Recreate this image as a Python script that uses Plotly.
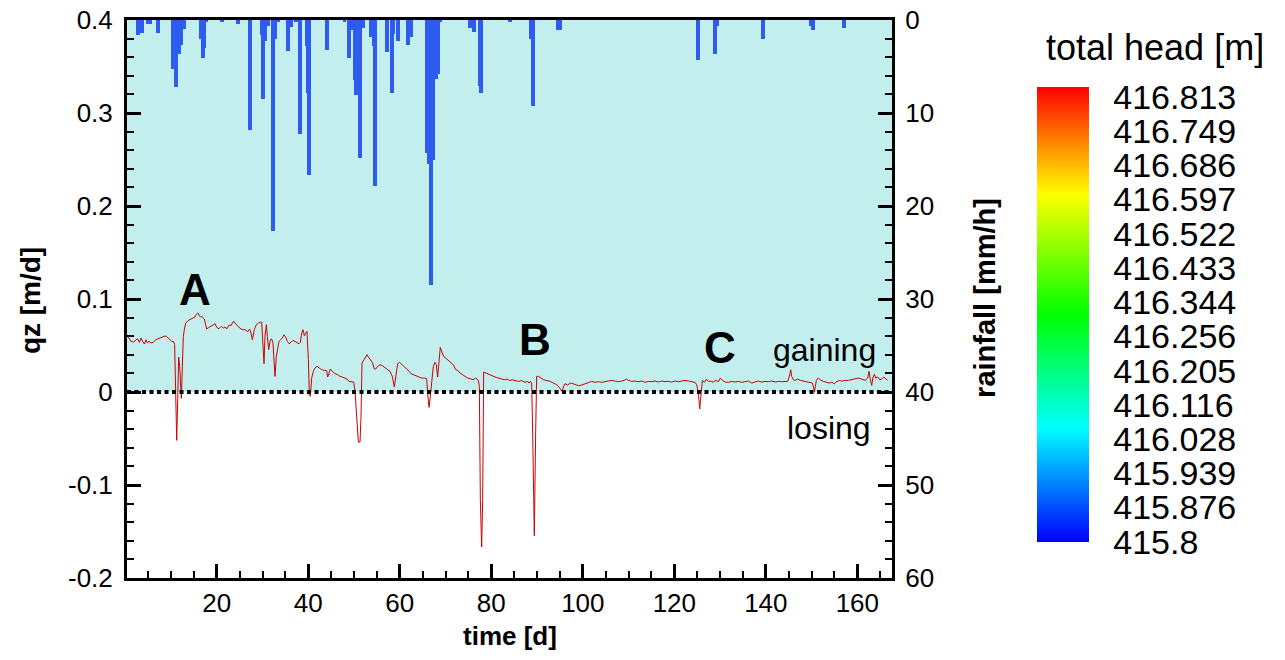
import plotly.graph_objects as go

FONT = "Liberation Sans, Arial, Helvetica, sans-serif"

# ---------------- data ----------------
rain_day = [2.8, 3.65, 4.9, 5.4, 7.15, 10.43, 11.08, 11.74, 12.17, 12.83,
            16.55, 16.98, 17.28, 17.64, 21.2, 24.6, 27.26, 29.88, 30.1, 30.5,
            31.2, 32.28, 32.65, 33.4, 35.5, 36.2, 37.3, 38.2, 39.7, 39.93,
            40.15, 44.1, 47.9, 48.9, 49.77, 50.2, 50.43, 51.3, 51.96, 53.7,
            54.4, 54.58, 57.2, 58.3, 58.6, 59.6, 61.8, 62.45, 65.94, 66.38,
            66.81, 67.25, 67.9, 68.35, 68.8, 75.3, 76.2, 77.5, 77.75, 84.1,
            88.7, 89.1, 94.5, 95.0, 125.2, 128.9, 129.3, 139.4, 149.9, 150.3,
            157.1]
rain_mmh = [1.65, 1.44, 0.45, 0.45, 1.44, 5.27, 7.24, 3.66, 2.73, 0.94,
            2.08, 4.13, 3.05, 0.22, 0.25, 0.47, 11.87, 1.65, 8.53, 2.3,
            0.68, 22.7, 2.08, 0.15, 3.3, 0.7, 0.15, 12.3, 2.83, 7.9,
            16.7, 3.26, 0.25, 4.1, 1.1, 6.49, 8.1, 14.8, 0.9, 1.87,
            2.83, 17.8, 3.48, 7.9, 1.5, 2.3, 2.73, 1.87, 14.3, 15.5,
            28.5, 15.1, 6.3, 5.85, 0.15, 0.9, 1.33, 7.14, 7.9, 0.15,
            2.08, 9.29, 1.1, 1.1, 4.34, 3.7, 0.68, 2.08, 0.68, 1.1,
            0.9]

qz_day = [
    0.66, 1.25, 1.76, 2.27, 2.70, 3.07, 3.43, 3.80, 4.16, 4.52, 4.82, 5.18, 5.62, 6.13,
    6.64, 7.07, 7.58, 8.09, 8.68, 9.04, 9.55, 10.13, 10.57, 10.79, 11.01, 11.23, 11.45,
    11.66, 11.88, 12.10, 12.25, 12.47, 12.68, 12.90, 13.19, 13.78, 14.36, 14.87, 15.23,
    15.45, 15.82, 16.11, 16.40, 16.69, 16.98, 17.27, 17.57, 17.78, 18.15, 18.73, 19.24,
    19.61, 20.04, 20.48, 20.99, 21.43, 21.79, 22.16, 22.67, 23.10, 23.39, 23.69, 23.98,
    24.41, 24.99, 25.58, 26.16, 26.75, 27.18, 27.47, 27.77, 28.20, 28.64, 29.08, 29.51,
    29.81, 30.10, 30.32, 30.53, 30.83, 31.04, 31.34, 31.70, 31.99, 32.28, 32.50, 32.72,
    33.01, 33.30, 33.59, 33.96, 34.32, 34.69, 35.05, 35.42, 35.78, 36.22, 36.65, 37.09,
    37.53, 37.97, 38.26, 38.55, 38.84, 39.13, 39.42, 39.71, 40.01, 40.23, 40.44, 40.74,
    41.10, 41.46, 41.90, 42.34, 42.92, 43.50, 44.01, 44.23, 44.52, 44.82, 45.25, 45.84,
    46.42, 46.93, 47.44, 48.02, 48.46, 48.90, 49.48, 49.92, 50.21, 50.57, 50.94, 51.30,
    51.52, 51.74, 52.10, 52.54, 52.83, 53.12, 53.56, 54.00, 54.43, 54.73, 55.16, 55.67,
    56.18,
    56.76, 57.34, 57.85, 58.36, 58.80, 59.16, 59.53, 59.97, 60.40, 60.84, 61.28, 61.86,
    62.44, 63.03, 63.68, 64.19, 64.77, 65.36, 65.87, 66.09, 66.38, 66.67, 66.96, 67.32,
    67.69, 67.98, 68.27, 68.56, 68.85, 69.15, 69.58, 70.02, 70.60, 71.19, 71.70, 72.21,
    72.64, 73.15, 73.66, 74.25, 74.83, 75.41, 75.99, 76.58, 77.16, 77.38, 77.60, 77.89,
    78.11, 78.33, 78.76, 79.35, 79.93, 80.51, 81.09, 81.68, 82.26, 82.84, 83.43, 84.01,
    84.59, 85.18, 85.90, 86.63, 87.36, 87.94, 88.24, 88.53, 88.82, 89.04, 89.40, 89.69,
    89.91, 90.28, 90.86, 91.44, 92.17, 92.90, 93.55, 94.28, 94.79, 95.23, 95.45, 95.74,
    96.10, 96.69, 97.27, 97.85, 98.44, 99.02, 99.75, 100.48, 101.20, 101.93, 102.66,
    103.39, 104.12, 104.85, 105.58, 106.30, 107.03, 107.76, 108.49, 109.07, 109.51,
    109.95, 110.68, 111.40, 112.13, 112.86,
    113.60, 114.33, 115.06, 115.79, 116.51, 117.24, 117.97, 118.70, 119.43, 120.16,
    120.89, 121.61, 122.34, 123.07, 123.80, 124.53, 124.89, 125.26, 125.55, 125.84,
    126.13, 126.57, 127.01, 127.44, 127.88, 128.46, 129.05, 129.63, 130.07, 130.50,
    131.09, 131.82, 132.54, 133.27, 134.00, 134.73, 135.46, 136.19, 136.92, 137.64,
    138.37, 139.10, 139.83, 140.56, 141.29, 142.02, 142.74, 143.47, 144.20, 144.78,
    145.15, 145.44, 145.66, 146.02, 146.39, 146.97, 147.55, 148.14, 148.72, 149.30,
    149.74, 150.18, 150.47, 150.61, 150.83, 151.05, 151.49, 152.07, 152.65, 153.24,
    153.82, 154.40, 154.98, 155.57, 156.15, 156.73, 157.32, 158.04, 158.77, 159.50,
    160.23, 160.96, 161.69, 162.27, 162.56, 162.85, 163.14, 163.44, 163.73, 164.02,
    164.46, 164.89, 165.33, 165.77, 166.20, 166.64]

qz_val = [
    0.0591, 0.0544, 0.0537, 0.0562, 0.0573, 0.0534, 0.0580, 0.0544, 0.0516, 0.0562, 0.0527,
    0.0544, 0.0527, 0.0534, 0.0562, 0.0570, 0.0580, 0.0591, 0.0602, 0.0598, 0.0573, 0.0544,
    0.0541, 0.0509, -0.0011, -0.0520, -0.0083, 0.0376, 0.0276, -0.0011, -0.0068, 0.0276,
    0.0598, 0.0670, 0.0741, 0.0770, 0.0785, 0.0796, 0.0806, 0.0831, 0.0849, 0.0828, 0.0806,
    0.0813, 0.0796, 0.0785, 0.0724, 0.0677, 0.0691, 0.0706, 0.0720, 0.0734, 0.0691, 0.0681,
    0.0706, 0.0688, 0.0699, 0.0677, 0.0720, 0.0713, 0.0741, 0.0763, 0.0741, 0.0713, 0.0688,
    0.0670, 0.0670, 0.0648, 0.0677, 0.0634, 0.0562, 0.0670, 0.0724, 0.0741, 0.0752, 0.0749,
    0.0491, 0.0304, 0.0598, 0.0724, 0.0598, 0.0455, 0.0562, 0.0570, 0.0527, 0.0383, 0.0168,
    0.0383, 0.0491, 0.0544, 0.0562, 0.0580, 0.0616, 0.0591, 0.0544, 0.0519, 0.0534, 0.0555,
    0.0544, 0.0527, 0.0519, 0.0534, 0.0634, 0.0670, 0.0605, 0.0634, 0.0652, 0.0347, -0.0029,
    -0.0047, 0.0150, 0.0222, 0.0258, 0.0276, 0.0258, 0.0240, 0.0233, 0.0229, 0.0161, 0.0211,
    0.0247, 0.0222, 0.0197, 0.0186, 0.0168, 0.0161, 0.0150, 0.0139, 0.0114, 0.0107, 0.0107,
    0.0007, -0.0262, -0.0538, -0.0538, -0.0262, 0.0311, 0.0340, 0.0365, 0.0401, 0.0376,
    0.0340, 0.0319, 0.0247, 0.0247, 0.0276, 0.0294, 0.0283,
    0.0258, 0.0240, 0.0222, 0.0168, 0.0053, 0.0186, 0.0304, 0.0319, 0.0294, 0.0276, 0.0258,
    0.0233, 0.0197, 0.0186, 0.0168, 0.0161, 0.0150, 0.0150, 0.0143, -0.0011, -0.0165,
    -0.0047, 0.0132, 0.0276, 0.0319, 0.0294, 0.0161, 0.0311, 0.0480, 0.0437, 0.0383, 0.0365,
    0.0340, 0.0319, 0.0294, 0.0240, 0.0233, 0.0204, 0.0186, 0.0168, 0.0150, 0.0143, 0.0132,
    0.0150, 0.0125, 0.0061, -0.1158, -0.1667, -0.1158, 0.0215, 0.0204, 0.0197, 0.0175,
    0.0168, 0.0157, 0.0150, 0.0139, 0.0132, 0.0139, 0.0122, 0.0132, 0.0125, 0.0114, 0.0122,
    0.0104, 0.0114, 0.0096, 0.0114, 0.0096, -0.0441, -0.1545, -0.0441, 0.0168, 0.0168,
    0.0150, 0.0132, 0.0122, 0.0114, 0.0096, 0.0079, 0.0053, 0.0025, 0.0007, 0.0053, 0.0089,
    0.0075, 0.0096, 0.0089, 0.0079, 0.0068, 0.0075, 0.0089, 0.0096, 0.0114, 0.0104, 0.0111,
    0.0104, 0.0114, 0.0118, 0.0125, 0.0114, 0.0111, 0.0118, 0.0125, 0.0139, 0.0125, 0.0114,
    0.0118, 0.0111, 0.0118,
    0.0104, 0.0114, 0.0111, 0.0118, 0.0107, 0.0118, 0.0111, 0.0114, 0.0107, 0.0118, 0.0111,
    0.0118, 0.0125, 0.0118, 0.0111, 0.0104, 0.0078, -0.0011, -0.0183, -0.0011, 0.0125,
    0.0104, 0.0139, 0.0114, 0.0118, 0.0104, 0.0125, 0.0111, 0.0150, 0.0125, 0.0107, 0.0104,
    0.0114, 0.0107, 0.0114, 0.0104, 0.0111, 0.0118, 0.0096, 0.0111, 0.0118, 0.0107, 0.0114,
    0.0111, 0.0118, 0.0107, 0.0114, 0.0111, 0.0111, 0.0114, 0.0168, 0.0240, 0.0168, 0.0132,
    0.0125, 0.0139, 0.0125, 0.0118, 0.0114, 0.0107, 0.0104, 0.0096, 0.0043, -0.0004, 0.0061,
    0.0125, 0.0150, 0.0125, 0.0114, 0.0104, 0.0096, 0.0104, 0.0089, 0.0114, 0.0122, 0.0118,
    0.0125, 0.0125, 0.0132, 0.0139, 0.0150, 0.0139, 0.0125, 0.0150, 0.0222, 0.0132, 0.0071,
    0.0161, 0.0190, 0.0150, 0.0161, 0.0132, 0.0139, 0.0161, 0.0139, 0.0125]

x_ticks = [20, 40, 60, 80, 100, 120, 140, 160]
qz_ticks = [-0.2, -0.1, 0, 0.1, 0.2, 0.3, 0.4]
qz_ticktext = ["-0.2", "-0.1", "0", "0.1", "0.2", "0.3", "0.4"]
rain_ticks = [0, 10, 20, 30, 40, 50, 60]
head_labels = ["415.8", "415.876", "415.939", "416.028", "416.116", "416.205",
               "416.256", "416.344", "416.433", "416.522", "416.597", "416.686",
               "416.749", "416.813"]

# ---------------- figure ----------------
fig = go.Figure()

fig.add_trace(go.Bar(
    x=rain_day, y=rain_mmh, width=0.85, yaxis="y2",
    marker=dict(color="#2f5cf0", line=dict(width=0)),
    showlegend=False, hoverinfo="x+y"))

fig.add_trace(go.Scatter(
    x=qz_day, y=qz_val, mode="lines",
    line=dict(color="#d00000", width=1),
    showlegend=False))

# dummy trace for the colour legend
head_idx = list(range(len(head_labels)))
fig.add_trace(go.Scatter(
    x=[None], y=[None], mode="markers", showlegend=False, hoverinfo="skip",
    marker=dict(
        color=[0], cmin=0, cmax=13.3,
        colorscale=[[0.0, "#0000ff"], [0.25, "#00ffff"], [0.5, "#00ff00"],
                    [0.765, "#ffff00"], [1.0, "#ff0000"]],
        showscale=True,
        colorbar=dict(
            x=1.19, xanchor="left", xpad=0,
            y=0.4728, yanchor="middle", ypad=0,
            len=455, lenmode="pixels", thickness=52,
            outlinewidth=0,
            tickvals=head_idx, ticktext=head_labels,
            ticks="outside", ticklen=18, tickcolor="rgba(0,0,0,0)",
            tickfont=dict(family=FONT, size=34, color="black"),
        ))))

axis_font = dict(family=FONT, size=26, color="black")

fig.update_layout(
    width=1285, height=660,
    margin=dict(l=127, r=393, t=20, b=82, autoexpand=False),
    paper_bgcolor="white", plot_bgcolor="white",
    barmode="overlay", bargap=0,
    font=dict(family=FONT, color="black"),
    xaxis=dict(
        range=[0.37, 167.58], tickvals=x_ticks, showgrid=False, zeroline=False,
        automargin=False,
        showline=True, linewidth=3, linecolor="black", mirror=True,
        ticks="inside", ticklen=14, tickwidth=3, tickcolor="black",
        minor=dict(ticks="inside", ticklen=7, tickwidth=1.5, dtick=5, tick0=0, tickcolor="black"),
        tickfont=axis_font, ticklabelstandoff=0),
    yaxis=dict(
        range=[-0.2, 0.4], tickvals=qz_ticks, ticktext=qz_ticktext,
        showgrid=False, zeroline=False, automargin=False,
        showline=True, linewidth=3, linecolor="black",
        ticks="inside", ticklen=14, tickwidth=3, tickcolor="black",
        minor=dict(ticks="inside", ticklen=7, tickwidth=1.5, dtick=0.02, tick0=0, tickcolor="black"),
        tickfont=axis_font, ticklabelstandoff=6),
    yaxis2=dict(
        range=[60, 0], overlaying="y", side="right", tickvals=rain_ticks,
        showgrid=False, zeroline=False, automargin=False,
        showline=True, linewidth=3, linecolor="black",
        ticks="inside", ticklen=14, tickwidth=3, tickcolor="black",
        minor=dict(ticks="inside", ticklen=7, tickwidth=1.5, dtick=2, tick0=0, tickcolor="black"),
        tickfont=axis_font, ticklabelstandoff=5),
    shapes=[
        dict(type="rect", xref="x domain", yref="y", x0=0, x1=1, y0=0, y1=0.4,
             fillcolor="#c2eeee", line=dict(width=0), layer="below"),
        dict(type="line", xref="x domain", yref="y", x0=0, x1=1, y0=0, y1=0,
             line=dict(color="black", width=4, dash="4px,3.5px"), layer="above"),
    ],
)

ann = [
    dict(text="<b>qz [m/d]</b>", x=-0.1268, y=0.498, textangle=-90, size=28),
    dict(text="<b>time [d]</b>", x=0.5007, y=-0.104, textangle=0, size=26),
    dict(text="<b>rainfall [mm/h]</b>", x=1.1216, y=0.502, textangle=-90, size=29),
    dict(text="total head [m]", x=1.3438, y=0.9516, textangle=0, size=36),
]
for a in ann:
    fig.add_annotation(text=a["text"], x=a["x"], y=a["y"], xref="paper", yref="paper",
                       textangle=a["textangle"], showarrow=False,
                       xanchor="center", yanchor="middle",
                       font=dict(family=FONT, size=a["size"], color="black"))

labels = [
    dict(text="<b>A</b>", x=15.2, y=0.110, size=44),
    dict(text="<b>B</b>", x=89.55, y=0.0562, size=44),
    dict(text="<b>C</b>", x=130.0, y=0.0476, size=44),
    dict(text="gaining", x=152.9, y=0.0455, size=32),
    dict(text="losing", x=153.8, y=-0.0384, size=32),
]
for a in labels:
    fig.add_annotation(text=a["text"], x=a["x"], y=a["y"], xref="x", yref="y",
                       showarrow=False, xanchor="center", yanchor="middle",
                       font=dict(family=FONT, size=a["size"], color="black"))

fig.write_html("out.html", config={"displayModeBar": False},
               post_script="document.body.style.margin='0px';document.body.style.overflow='hidden';")
